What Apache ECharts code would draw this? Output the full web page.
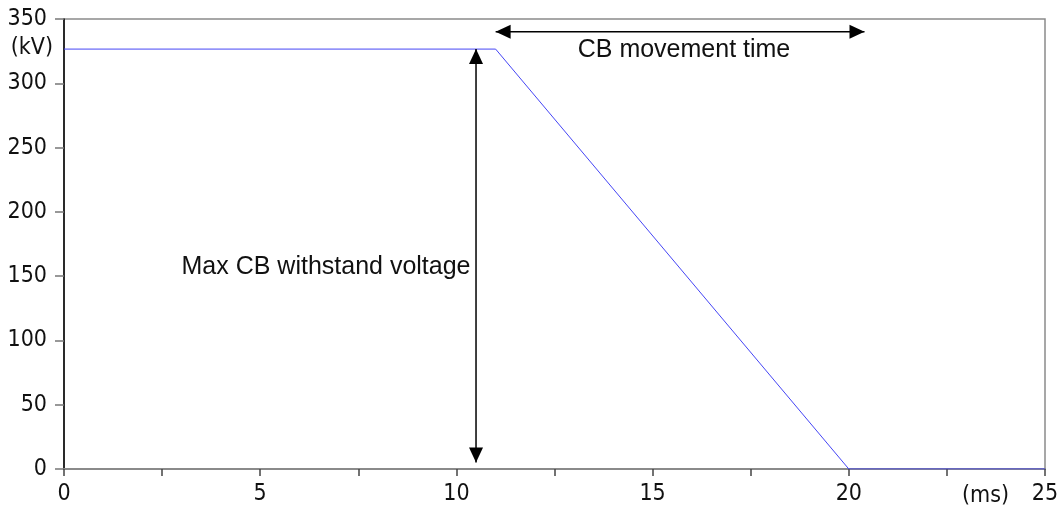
<!DOCTYPE html>
<html>
<head>
<meta charset="utf-8">
<script src="https://cdn.jsdelivr.net/npm/echarts@6/dist/echarts.min.js"></script>
<style>
  html, body { margin: 0; padding: 0; background: #fff; }
  #chart { width: 1063px; height: 508px; }
</style>
</head>
<body>
<div id="chart"></div>
<script>
// Breaker withstand voltage envelope (kV) against time (ms)
const timeMs = [0, 11, 20, 25];
const voltageKv = [326.6, 326.6, 0, 0];

// Axis ranges and tick labels
const xTicks = [0, 5, 10, 15, 20, 25];
const yTicks = [0, 50, 100, 150, 200, 250, 300, 350];

// Double-headed annotation arrows: [x1, y1, x2, y2] in data units
const arrowSpans = [
  [10.5, 5, 10.5, 326.6],
  [11, 340, 20.4, 340]
];
// Annotation texts: [x, y, text, align]
const noteTexts = [
  [15.8, 326, 'CB movement time', 'center'],
  [10.36, 157, 'Max CB withstand voltage', 'right']
];

const tickFont = '"DejaVu Sans Condensed", "DejaVu Sans", sans-serif';
const noteFont = '"Liberation Sans", Arial, sans-serif';

const chart = echarts.init(document.getElementById('chart'), null, { renderer: 'canvas' });

function arrowHead(tip, from, len, halfW) {
  const dx = tip[0] - from[0], dy = tip[1] - from[1];
  const d = Math.sqrt(dx * dx + dy * dy) || 1;
  const ux = dx / d, uy = dy / d;
  const bx = tip[0] - ux * len, by = tip[1] - uy * len;
  return {
    type: 'polygon',
    shape: { points: [tip, [bx - uy * halfW, by + ux * halfW], [bx + uy * halfW, by - ux * halfW]] },
    style: { fill: '#000' }
  };
}

chart.setOption({
  animation: false,
  grid: {
    left: 64, right: 18, top: 19, bottom: 39,
    show: true, borderColor: '#8a8a8a', borderWidth: 1.5, backgroundColor: 'transparent'
  },
  xAxis: {
    type: 'value', min: 0, max: 25, interval: 2.5,
    axisLine: { show: true, lineStyle: { color: '#8a8a8a', width: 2 } },
    axisTick: { show: true, length: 7, lineStyle: { color: '#444', width: 1.5 } },
    splitLine: { show: false },
    axisLabel: {
      margin: 14, color: '#111', fontFamily: tickFont, fontSize: 23,
      formatter: v => (xTicks.indexOf(v) >= 0 ? String(v) : '')
    }
  },
  yAxis: {
    type: 'value', min: 0, max: 350, interval: 50,
    axisLine: { show: true, lineStyle: { color: '#000', width: 1.5 } },
    axisTick: { show: true, length: 9, lineStyle: { color: '#777', width: 1.5 } },
    splitLine: { show: false },
    axisLabel: {
      margin: 17, color: '#111', fontFamily: tickFont, fontSize: 23,
      formatter: v => (yTicks.indexOf(v) >= 0 ? String(v) : '')
    }
  },
  graphic: [
    { type: 'text', right: 1063 - 53, top: 37,
      style: { text: '(kV)', font: '23px ' + tickFont, fill: '#111', textAlign: 'right' } },
    { type: 'text', left: 962, top: 485,
      style: { text: '(ms)', font: '23px ' + tickFont, fill: '#111' } }
  ],
  series: [
    {
      type: 'line',
      data: timeMs.map((t, i) => [t, voltageKv[i]]),
      showSymbol: false,
      lineStyle: { color: '#4545f5', width: 1 },
      z: 3
    },
    {
      type: 'custom',
      data: arrowSpans,
      renderItem: (params, api) => {
        const p1 = api.coord([api.value(0), api.value(1)]);
        const p2 = api.coord([api.value(2), api.value(3)]);
        return {
          type: 'group',
          children: [
            { type: 'line', shape: { x1: p1[0], y1: p1[1], x2: p2[0], y2: p2[1] },
              style: { stroke: '#000', lineWidth: 1.5 } },
            arrowHead(p1, p2, 15, 7),
            arrowHead(p2, p1, 15, 7)
          ]
        };
      },
      z: 4
    },
    {
      type: 'custom',
      data: noteTexts.map(n => [n[0], n[1]]),
      renderItem: (params, api) => {
        const p = api.coord([api.value(0), api.value(1)]);
        const n = noteTexts[params.dataIndex];
        return {
          type: 'text',
          x: p[0], y: p[1],
          style: { text: n[2], font: '25px ' + noteFont, fill: '#111',
                   textAlign: n[3], textVerticalAlign: 'middle' }
        };
      },
      z: 5
    }
  ]
});
</script>
</body>
</html>
